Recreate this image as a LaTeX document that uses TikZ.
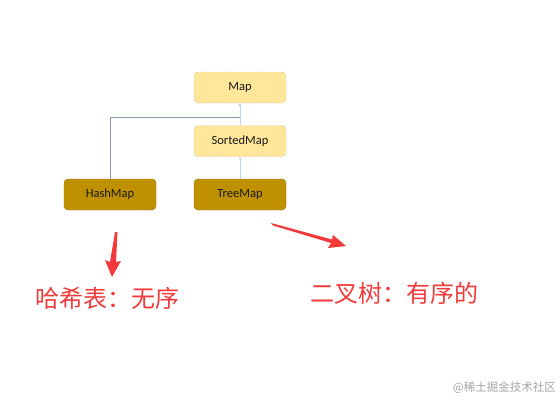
\documentclass[tikz,border=0pt]{standalone}
\usepackage{fontspec}
\usetikzlibrary{arrows.meta}
\setmainfont{Carlito}
\newfontfamily\cjk{Noto Sans CJK SC}
\definecolor{lightbox}{HTML}{FFE699}
\definecolor{darkbox}{HTML}{BF9000}
\definecolor{redarrow}{HTML}{F23A3A}
\definecolor{conn}{HTML}{8497B0}
\definecolor{conn2}{HTML}{BDD7EE}
\begin{document}
\begin{tikzpicture}[x=1pt,y=-1pt,
  lbox/.style={draw=gray!80, densely dotted, fill=lightbox, rounded corners=4pt, minimum width=92pt, minimum height=31pt, inner sep=0pt, font=\fontsize{12.5}{14}\selectfont, text=black!90},
  dbox/.style={draw=darkbox!80!black, fill=darkbox, rounded corners=4pt, minimum width=92pt, minimum height=31pt, inner sep=0pt, font=\fontsize{12.5}{14}\selectfont, text=black!90},
  cn/.style={conn, line width=0.6pt, -{Stealth[length=3pt,width=2.5pt]}},
  redtxt/.style={text=redarrow, font=\cjk\fontsize{24}{26}\selectfont, inner sep=0pt}
]
\useasboundingbox (0,0) rectangle (560,400);
\fill[white] (0,0) rectangle (560,400);
\node[lbox] (map) at (240,87.5) {Map};
\node[lbox] (sorted) at (240,141) {SortedMap};
\node[dbox] (hash) at (110,194.5) {HashMap};
\node[dbox] (tree) at (240,194.5) {TreeMap};
\coordinate (bend) at (110,117);
\draw[cn] (hash.north) -- (bend) -| (map.south);
\draw[cn, conn2] (sorted.north) -- (map.south);
\draw[cn, conn2] (tree.north) -- (sorted.south);
% red arrows
\fill[redarrow] (115,232) -- (117.5,232) -- (116,262) -- (121,261) -- (112,277) -- (105,260) -- (110,262) -- cycle;
\fill[redarrow] (271,223) -- (273,225.5) -- (331,243) -- (328,248) -- (346,246) -- (333,235) -- (332,239.5) -- cycle;
\node[redtxt, anchor=west] (t1) at (35,298) {哈希表：无序};
\node[redtxt, anchor=west] (t2) at (310,293) {二叉树：有序的};
\node[anchor=east, inner sep=0pt, text=gray!70, font=\cjk\fontsize{11.5}{13}\selectfont] (wm) at (556,388) {@稀土掘金技术社区};
\end{tikzpicture}
\end{document}
